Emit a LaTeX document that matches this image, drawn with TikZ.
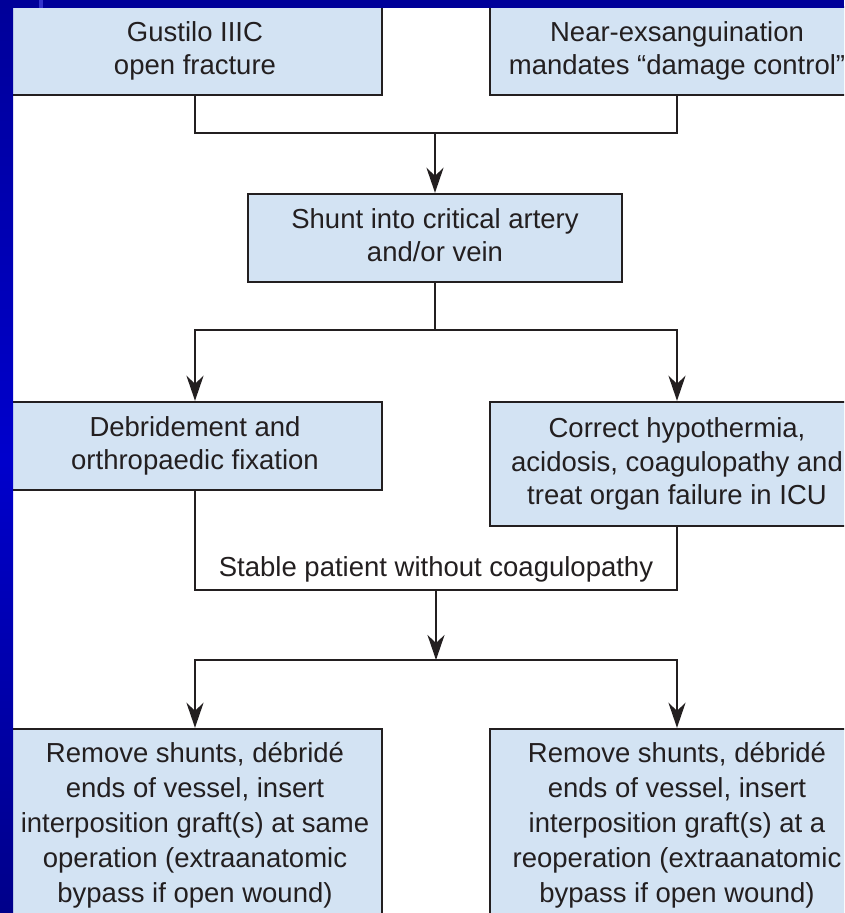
\documentclass[tikz,border=0pt]{standalone}
\usepackage{fontspec}
\setmainfont{Liberation Sans}
\usetikzlibrary{arrows.meta}
\definecolor{boxfill}{HTML}{D3E3F3}
\definecolor{ink}{HTML}{231F20}
\definecolor{navy}{HTML}{000099}
\definecolor{brightblue}{HTML}{0000CC}
\definecolor{strip}{HTML}{3333CC}
\begin{document}
\begin{tikzpicture}[x=1pt,y=-1pt,
  box/.style={draw=ink, line width=2.4pt, fill=boxfill, inner sep=0pt,
    minimum width=374pt, align=center, text=ink,
    font=\fontsize{27.5}{33.5}\selectfont, text depth=6pt},
  twoline/.style={text height=53.5pt, minimum height=88pt},
  threeline/.style={text height=87pt, minimum height=124pt},
  fiveline/.style={font=\fontsize{27.5}{35}\selectfont, text height=160pt, minimum height=192pt},
  lbl/.style={text=ink, inner sep=0pt, font=\fontsize{27.5}{33.5}\selectfont},
  conn/.style={draw=ink, line width=2.4pt},
  arr/.style={conn, -{Stealth[length=25pt,width=17pt,inset=8pt]}}
]
\useasboundingbox (0,0) rectangle (844,913);
\clip (0,0) rectangle (844,913);
\fill[white] (0,0) rectangle (844,913);

% boxes
\node[box,twoline] (b1) at (195,51) {Gustilo IIIC\\open fracture};
\node[box,twoline] (b2) at (677,51) {Near-exsanguination\\mandates “damage control”};
\node[box,twoline] (b3) at (435,238) {Shunt into critical artery\\and/or vein};
\node[box,twoline] (b4) at (195,446) {Debridement and\\orthropaedic fixation};
\node[box,threeline] (b5) at (677,464) {Correct hypothermia,\\acidosis, coagulopathy and\\treat organ failure in ICU};
\node[box,fiveline] (b6) at (195,825) {Remove shunts, débridé\\ends of vessel, insert\\interposition graft(s) at same\\operation (extraanatomic\\bypass if open wound)};
\node[box,fiveline] (b7) at (677,825) {Remove shunts, débridé\\ends of vessel, insert\\interposition graft(s) at a\\reoperation (extraanatomic\\bypass if open wound)};

% junctions
\coordinate (j1) at (435,133);
\coordinate (j2) at (435,330);
\coordinate (j3) at (436,590);
\coordinate (j4) at (436,660);

\node[lbl, anchor=base] (stable) at (436,576) {Stable patient without coagulopathy};

% connectors
\draw[conn] (b1.south) |- (j1) -| (b2.south);
\draw[arr] (j1) -- (b3.north);
\draw[conn] (b3.south) -- (j2);
\draw[arr] (j2) -| (b4.north);
\draw[arr] (j2) -| (b5.north);
\draw[conn] (b4.south) |- (j3) -| (b5.south);
\draw[arr] (j3) -- (j4);
\draw[arr] (j4) -| (b6.north);
\draw[arr] (j4) -| (b7.north);

% slide frame
\shade[top color=navy, bottom color=navy!90!black, middle color=brightblue] (0,0) rectangle (13,913);
\fill[navy] (0,0) rectangle (844,8);
\fill[strip] (39,0) rectangle (43,8);
\end{tikzpicture}
\end{document}
